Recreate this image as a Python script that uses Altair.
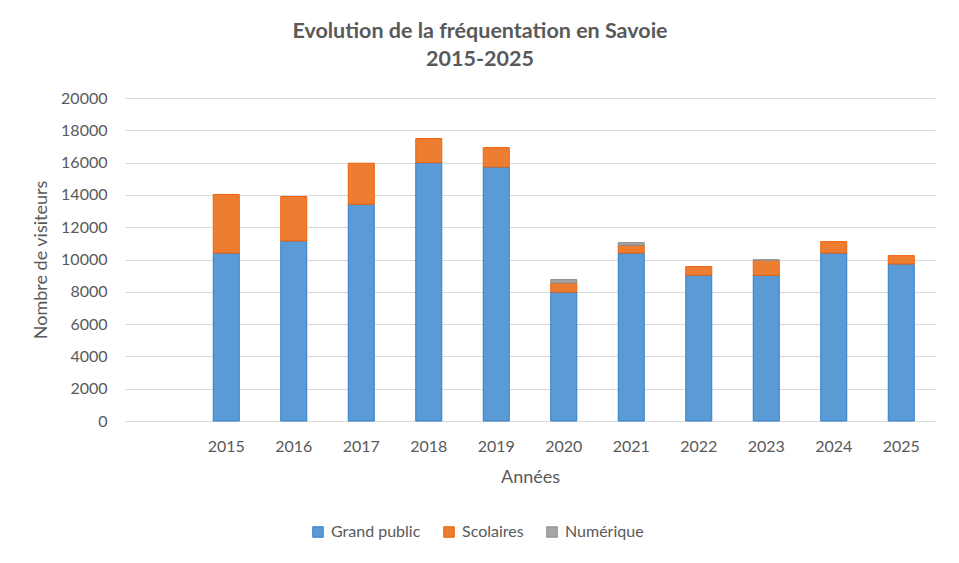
import altair as alt
import pandas as pd

years = ["2015", "2016", "2017", "2018", "2019", "2020", "2021", "2022", "2023", "2024", "2025"]
grand_public = [10400, 11150, 13420, 16000, 15730, 7980, 10400, 9030, 9020, 10400, 9720]
scolaires = [3630, 2750, 2540, 1490, 1200, 565, 480, 530, 930, 710, 520]
numerique = [0, 0, 0, 0, 0, 210, 165, 0, 30, 0, 0]
series = ["Grand public", "Scolaires", "Numérique"]
colors = ["#5B9BD5", "#ED7D31", "#A5A5A5"]
strokes = ["#2E7FCC", "#F0600A", "#8C8C8C"]
x_domain = [" "] + years

rows = []
for i, y in enumerate(years):
    for k, (name, vals) in enumerate(zip(series, [grand_public, scolaires, numerique])):
        rows.append({"Année": y, "Série": name, "Valeur": vals[i], "ordre": k})
df = pd.DataFrame(rows)

FONT = "Lato"
TXT = "#595959"

bars = alt.Chart(df).transform_filter("datum.Valeur > 0").mark_bar(size=26, strokeWidth=1).encode(
    x=alt.X("Année:N", scale=alt.Scale(domain=x_domain, paddingInner=0, paddingOuter=0),
            axis=alt.Axis(title="Années", labelAngle=0, ticks=False, domainColor="#D9D9D9",
                          labelPadding=17, titlePadding=14, grid=False)),
    y=alt.Y("Valeur:Q", stack="zero", scale=alt.Scale(domain=[0, 20000], nice=False),
            axis=alt.Axis(title="Nombre de visiteurs", values=list(range(0, 20001, 2000)), format="d",
                          ticks=False, domain=False, gridColor="#D9D9D9", gridWidth=1,
                          labelPadding=18, titlePadding=10)),
    color=alt.Color("Série:N", scale=alt.Scale(domain=series, range=colors),
                    legend=alt.Legend(title=None, orient="none", direction="horizontal",
                                      legendX=185, legendY=426, symbolType="square",
                                      symbolSize=110, symbolStrokeWidth=1, columnPadding=20,
                                      labelOffset=5, labelFont=FONT, labelColor=TXT,
                                      labelFontSize=16)),
    stroke=alt.Stroke("Série:N", scale=alt.Scale(domain=series, range=strokes), legend=None),
    order=alt.Order("ordre:Q", sort="ascending"),
)

chart = bars.properties(
    width=810, height=323,
    background="white",
    autosize=alt.AutoSizeParams(type="none"),
    padding={"left": 117, "top": 90, "right": 16, "bottom": 134},
    title=alt.TitleParams(text=["Evolution de la fréquentation en Savoie", "2015-2025"],
                          fontSize=21.5, fontWeight="bold", color=TXT, font=FONT,
                          anchor="middle", dx=-50, offset=20, lineHeight=28),
).configure_view(stroke=None).configure_axis(
    labelFont=FONT, titleFont=FONT, labelColor=TXT, titleColor=TXT,
    labelFontSize=16, titleFontSize=18, titleFontWeight="normal",
)

chart.save("out.html", embed_options={"renderer": "svg", "actions": False})
